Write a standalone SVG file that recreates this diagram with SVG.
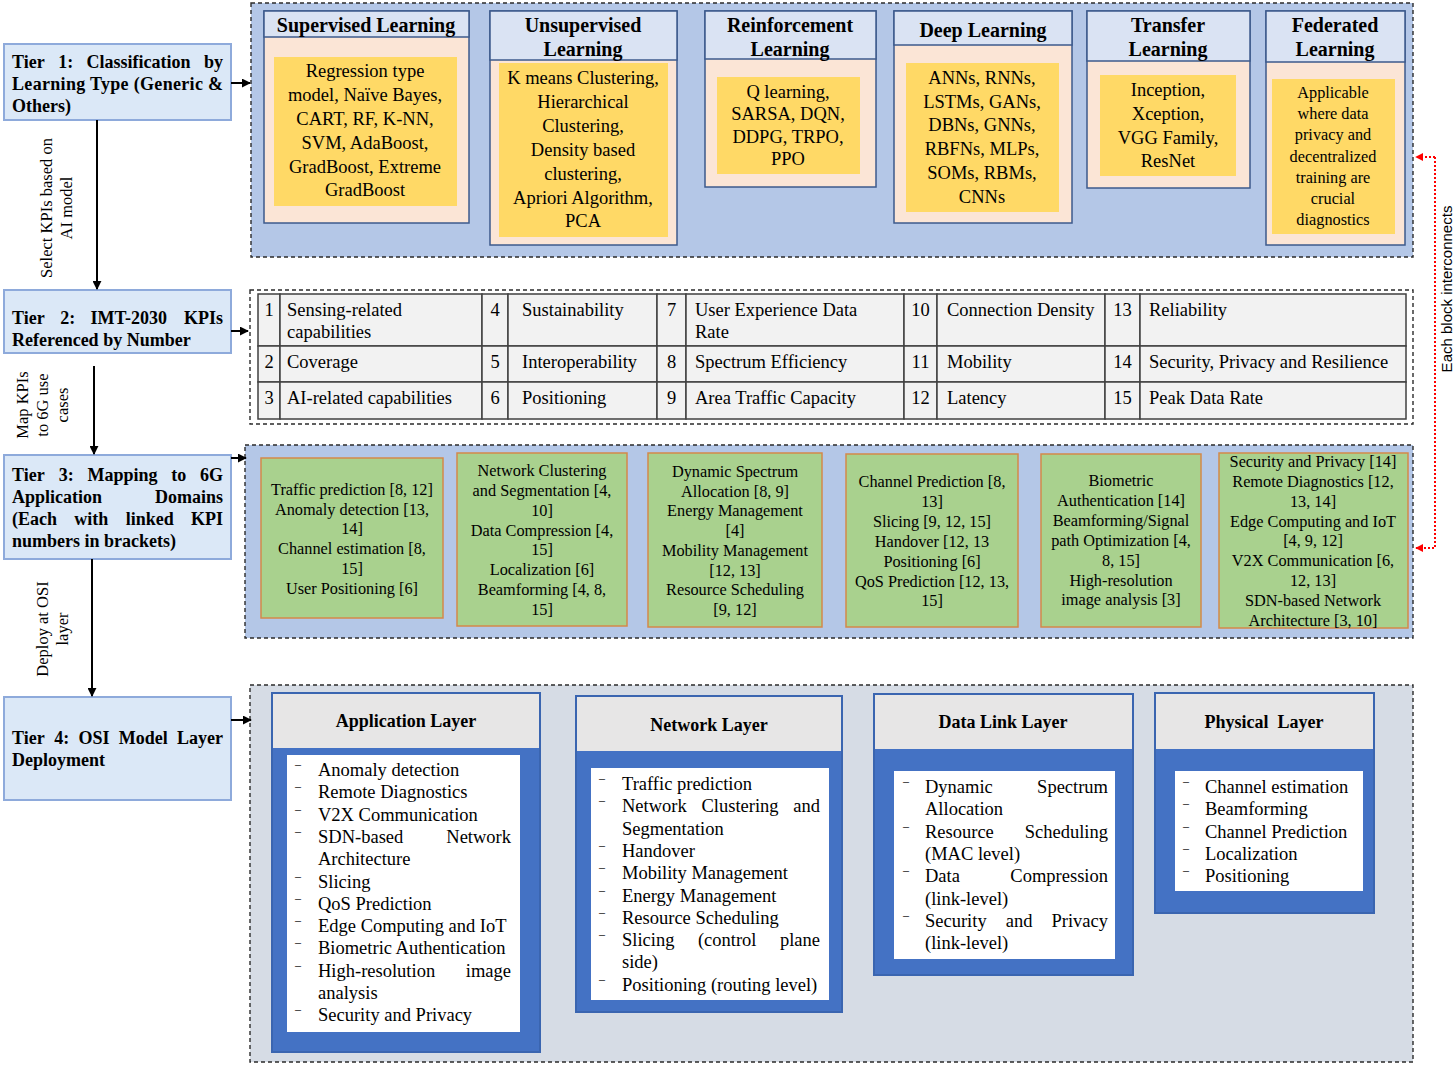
<svg xmlns="http://www.w3.org/2000/svg" width="1456" height="1065" viewBox="0 0 1456 1065">
<defs>
<style>
.tier{fill:#dbe8f7;stroke:#8eaadb;stroke-width:2}
.tt{font-family:"Liberation Serif",serif;font-weight:bold;font-size:18px;fill:#000}
.cont{stroke:#2b2b2b;stroke-width:1.4;stroke-dasharray:4 3}
.hdr{fill:#dae3f3;stroke:#3c5a8c;stroke-width:1.5}
.body{fill:#fbe5d6;stroke:#3c5a8c;stroke-width:1.5}
.yel{fill:#ffd966}
.ht{font-family:"Liberation Serif",serif;font-weight:bold;font-size:20px;text-anchor:middle;fill:#000}
.yt{font-family:"Liberation Serif",serif;font-size:18.5px;text-anchor:middle;fill:#000}
.ft{font-family:"Liberation Serif",serif;font-size:16.3px;text-anchor:middle;fill:#000}
.grn{fill:#a9d18e;stroke:#d4894a;stroke-width:1.5}
.gt{font-family:"Liberation Serif",serif;font-size:16.3px;text-anchor:middle;fill:#000}
.cell{fill:#f2f2f2;stroke:#404040;stroke-width:1.5}
.tb{font-family:"Liberation Serif",serif;font-size:18.5px;fill:#000}
.tbn{font-family:"Liberation Serif",serif;font-size:18.5px;fill:#000;text-anchor:middle}
.lcard{fill:#4472c4;stroke:#3a65b0;stroke-width:2}
.lhdr{fill:#e7e6e6}
.lwhite{fill:#ffffff}
.lh{font-family:"Liberation Serif",serif;font-weight:bold;font-size:18px;text-anchor:middle;fill:#000}
.lt{font-family:"Liberation Serif",serif;font-size:18.5px;fill:#000}
.bul{font-family:"Liberation Serif",serif;font-size:12px;fill:#000}
.rot{font-family:"Liberation Serif",serif;font-size:16.5px;text-anchor:middle;fill:#000}
.arr{stroke:#000;stroke-width:2;fill:none;marker-end:url(#ah)}
.red{stroke:#ff0000;stroke-width:2;fill:none;stroke-dasharray:2 2}
.redt{font-family:"Liberation Sans",sans-serif;font-size:15px;text-anchor:middle;fill:#000}
</style>
<marker id="ah" viewBox="0 0 10 10" refX="9" refY="5" markerWidth="4.5" markerHeight="4.5" orient="auto"><path d="M0,0 L10,5 L0,10 z" fill="#000"/></marker>
<marker id="rh" viewBox="0 0 10 10" refX="9" refY="5" markerWidth="4" markerHeight="4" orient="auto"><path d="M0,0 L10,5 L0,10 z" fill="#ff0000"/></marker>
</defs>
<rect width="1456" height="1065" fill="#ffffff"/>

<!-- Containers -->
<g id="containers">
<rect class="cont" x="251" y="3" width="1162" height="254" fill="#b4c7e7"/>
<rect class="cont" x="250" y="290" width="1163" height="134" fill="#ffffff"/>
<rect class="cont" x="245" y="445" width="1168" height="193" fill="#b4c7e7"/>
<rect class="cont" x="250" y="685" width="1163" height="377" fill="#d6dce5"/>
</g>

<!-- Tier boxes -->
<g id="tier1">
<rect class="tier" x="4" y="44" width="227" height="76"/>
<text class="tt"><tspan x="12" y="68">Tier</tspan><tspan x="58.3" y="68">1:</tspan><tspan x="86.6" y="68">Classification</tspan><tspan x="223" y="68" text-anchor="end">by</tspan></text>
<text class="tt" x="12" y="90" textLength="211" lengthAdjust="spacing">Learning Type (Generic &amp;</text>
<text class="tt" x="12" y="112">Others)</text>
</g>
<g id="tier2">
<rect class="tier" x="4" y="290" width="227" height="63"/>
<text class="tt"><tspan x="12" y="324">Tier</tspan><tspan x="60.3" y="324">2:</tspan><tspan x="90.6" y="324">IMT-2030</tspan><tspan x="223" y="324" text-anchor="end">KPIs</tspan></text>
<text class="tt" x="12" y="346">Referenced by Number</text>
</g>
<g id="tier3">
<rect class="tier" x="4" y="455" width="227" height="104"/>
<text class="tt"><tspan x="12" y="481">Tier</tspan><tspan x="58.7" y="481">3:</tspan><tspan x="87.5" y="481">Mapping</tspan><tspan x="171.2" y="481">to</tspan><tspan x="223" y="481" text-anchor="end">6G</tspan></text>
<text class="tt"><tspan x="12" y="503">Application</tspan><tspan x="223" y="503" text-anchor="end">Domains</tspan></text>
<text class="tt"><tspan x="12" y="525">(Each</tspan><tspan x="74.3" y="525">with</tspan><tspan x="125.7" y="525">linked</tspan><tspan x="223" y="525" text-anchor="end">KPI</tspan></text>
<text class="tt" x="12" y="547">numbers in brackets)</text>
</g>
<g id="tier4">
<rect class="tier" x="4" y="697" width="227" height="103"/>
<text class="tt"><tspan x="12" y="744">Tier</tspan><tspan x="54.2" y="744">4:</tspan><tspan x="78.5" y="744">OSI</tspan><tspan x="118.7" y="744">Model</tspan><tspan x="223" y="744" text-anchor="end">Layer</tspan></text>
<text class="tt" x="12" y="766">Deployment</text>
</g>

<!-- Connectors -->
<g id="connectors">
<line class="arr" x1="97" y1="120" x2="97" y2="289"/>
<line class="arr" x1="94" y1="366" x2="94" y2="454"/>
<line class="arr" x1="92" y1="559" x2="92" y2="696"/>
<line class="arr" x1="231" y1="83" x2="250" y2="83"/>
<line class="arr" x1="231" y1="331" x2="248" y2="331"/>
<line class="arr" x1="231" y1="458" x2="246" y2="458"/>
<line class="arr" x1="231" y1="720" x2="251" y2="720"/>
<path class="red" d="M1435,157 H1435 V548 H1416" marker-end="url(#rh)"/>
<path class="red" d="M1435,157 H1416" marker-end="url(#rh)"/>
<text class="rot" transform="translate(0,208) rotate(-90)"><tspan x="0" y="52">Select KPIs based on</tspan><tspan x="0" y="72">AI model</tspan></text>
<text class="rot" transform="translate(0,405) rotate(-90)"><tspan x="0" y="28">Map KPIs</tspan><tspan x="0" y="48">to 6G use</tspan><tspan x="0" y="68">cases</tspan></text>
<text class="rot" transform="translate(0,629) rotate(-90)"><tspan x="0" y="48">Deploy at OSI</tspan><tspan x="0" y="68">layer</tspan></text>
<text class="redt" transform="translate(1452,289) rotate(-90)" x="0" y="0">Each block interconnects</text>
</g>

<!-- Tier 1 cards -->
<g id="supervised">
<rect class="body" x="264" y="11" width="205" height="212"/>
<rect class="hdr" x="264" y="11" width="205" height="26"/>
<text class="ht" x="366" y="32">Supervised Learning</text>
<rect class="yel" x="274" y="57" width="183" height="149"/>
<text class="yt"><tspan x="365" y="77">Regression type</tspan><tspan x="365" y="101">model, Naïve Bayes,</tspan><tspan x="365" y="125">CART, RF, K-NN,</tspan><tspan x="365" y="149">SVM, AdaBoost,</tspan><tspan x="365" y="173">GradBoost, Extreme</tspan><tspan x="365" y="196">GradBoost</tspan></text>
</g>
<g id="unsupervised">
<rect class="body" x="490" y="11" width="187" height="234"/>
<rect class="hdr" x="490" y="11" width="187" height="49"/>
<text class="ht"><tspan x="583" y="32">Unsupervised</tspan><tspan x="583" y="56">Learning</tspan></text>
<rect class="yel" x="499" y="63" width="169" height="174"/>
<text class="yt"><tspan x="583" y="84">K means Clustering,</tspan><tspan x="583" y="108">Hierarchical</tspan><tspan x="583" y="132">Clustering,</tspan><tspan x="583" y="156">Density based</tspan><tspan x="583" y="180">clustering,</tspan><tspan x="583" y="204">Apriori Algorithm,</tspan><tspan x="583" y="227">PCA</tspan></text>
</g>
<g id="reinforcement">
<rect class="body" x="705" y="11" width="171" height="176"/>
<rect class="hdr" x="705" y="11" width="171" height="48"/>
<text class="ht"><tspan x="790" y="32">Reinforcement</tspan><tspan x="790" y="56">Learning</tspan></text>
<rect class="yel" x="717" y="77" width="143" height="97"/>
<text class="yt"><tspan x="788" y="98">Q learning,</tspan><tspan x="788" y="120">SARSA, DQN,</tspan><tspan x="788" y="143">DDPG, TRPO,</tspan><tspan x="788" y="165">PPO</tspan></text>
</g>
<g id="deep">
<rect class="body" x="894" y="11" width="178" height="212"/>
<rect class="hdr" x="894" y="11" width="178" height="34"/>
<text class="ht" x="983" y="37">Deep Learning</text>
<rect class="yel" x="906" y="63" width="153" height="149"/>
<text class="yt"><tspan x="982" y="84">ANNs, RNNs,</tspan><tspan x="982" y="108">LSTMs, GANs,</tspan><tspan x="982" y="131">DBNs, GNNs,</tspan><tspan x="982" y="155">RBFNs, MLPs,</tspan><tspan x="982" y="179">SOMs, RBMs,</tspan><tspan x="982" y="203">CNNs</tspan></text>
</g>
<g id="transfer">
<rect class="body" x="1087" y="11" width="163" height="177"/>
<rect class="hdr" x="1087" y="11" width="163" height="50"/>
<text class="ht"><tspan x="1168" y="32">Transfer</tspan><tspan x="1168" y="56">Learning</tspan></text>
<rect class="yel" x="1100" y="75" width="136" height="101"/>
<text class="yt"><tspan x="1168" y="96">Inception,</tspan><tspan x="1168" y="120">Xception,</tspan><tspan x="1168" y="144">VGG Family,</tspan><tspan x="1168" y="167">ResNet</tspan></text>
</g>
<g id="federated">
<rect class="body" x="1266" y="11" width="139" height="234"/>
<rect class="hdr" x="1266" y="11" width="139" height="51"/>
<text class="ht"><tspan x="1335" y="32">Federated</tspan><tspan x="1335" y="56">Learning</tspan></text>
<rect class="yel" x="1272" y="79" width="123" height="155"/>
<text class="ft"><tspan x="1333" y="98">Applicable</tspan><tspan x="1333" y="119">where data</tspan><tspan x="1333" y="140">privacy and</tspan><tspan x="1333" y="162">decentralized</tspan><tspan x="1333" y="183">training are</tspan><tspan x="1333" y="204">crucial</tspan><tspan x="1333" y="225">diagnostics</tspan></text>
</g>

<!-- Tier 2 KPI table -->
<g id="kpi-table">
<rect class="cell" x="258" y="294" width="22" height="52"/><rect class="cell" x="280" y="294" width="202" height="52"/><rect class="cell" x="482" y="294" width="26" height="52"/><rect class="cell" x="508" y="294" width="149" height="52"/><rect class="cell" x="657" y="294" width="29" height="52"/><rect class="cell" x="686" y="294" width="218" height="52"/><rect class="cell" x="904" y="294" width="33" height="52"/><rect class="cell" x="937" y="294" width="168" height="52"/><rect class="cell" x="1105" y="294" width="35" height="52"/><rect class="cell" x="1140" y="294" width="266" height="52"/>
<rect class="cell" x="258" y="346" width="22" height="36"/><rect class="cell" x="280" y="346" width="202" height="36"/><rect class="cell" x="482" y="346" width="26" height="36"/><rect class="cell" x="508" y="346" width="149" height="36"/><rect class="cell" x="657" y="346" width="29" height="36"/><rect class="cell" x="686" y="346" width="218" height="36"/><rect class="cell" x="904" y="346" width="33" height="36"/><rect class="cell" x="937" y="346" width="168" height="36"/><rect class="cell" x="1105" y="346" width="35" height="36"/><rect class="cell" x="1140" y="346" width="266" height="36"/>
<rect class="cell" x="258" y="382" width="22" height="37"/><rect class="cell" x="280" y="382" width="202" height="37"/><rect class="cell" x="482" y="382" width="26" height="37"/><rect class="cell" x="508" y="382" width="149" height="37"/><rect class="cell" x="657" y="382" width="29" height="37"/><rect class="cell" x="686" y="382" width="218" height="37"/><rect class="cell" x="904" y="382" width="33" height="37"/><rect class="cell" x="937" y="382" width="168" height="37"/><rect class="cell" x="1105" y="382" width="35" height="37"/><rect class="cell" x="1140" y="382" width="266" height="37"/>
<text class="tbn" x="269" y="316">1</text><text class="tb" x="287" y="316">Sensing-related</text><text class="tb" x="287" y="338">capabilities</text>
<text class="tbn" x="495" y="316">4</text><text class="tb" x="522" y="316">Sustainability</text>
<text class="tbn" x="671.5" y="316">7</text><text class="tb" x="695" y="316">User Experience Data</text><text class="tb" x="695" y="338">Rate</text>
<text class="tbn" x="920.5" y="316">10</text><text class="tb" x="947" y="316">Connection Density</text>
<text class="tbn" x="1122.5" y="316">13</text><text class="tb" x="1149" y="316">Reliability</text>
<text class="tbn" x="269" y="368">2</text><text class="tb" x="287" y="368">Coverage</text>
<text class="tbn" x="495" y="368">5</text><text class="tb" x="522" y="368">Interoperability</text>
<text class="tbn" x="671.5" y="368">8</text><text class="tb" x="695" y="368">Spectrum Efficiency</text>
<text class="tbn" x="920.5" y="368">11</text><text class="tb" x="947" y="368">Mobility</text>
<text class="tbn" x="1122.5" y="368">14</text><text class="tb" x="1149" y="368">Security, Privacy and Resilience</text>
<text class="tbn" x="269" y="404">3</text><text class="tb" x="287" y="404">AI-related capabilities</text>
<text class="tbn" x="495" y="404">6</text><text class="tb" x="522" y="404">Positioning</text>
<text class="tbn" x="671.5" y="404">9</text><text class="tb" x="695" y="404">Area Traffic Capacity</text>
<text class="tbn" x="920.5" y="404">12</text><text class="tb" x="947" y="404">Latency</text>
<text class="tbn" x="1122.5" y="404">15</text><text class="tb" x="1149" y="404">Peak Data Rate</text>
</g>

<!-- Tier 3 application domains -->
<g id="domain1">
<rect class="grn" x="261" y="458" width="182" height="160"/>
<text class="gt"><tspan x="352" y="495">Traffic prediction [8, 12]</tspan><tspan x="352" y="515">Anomaly detection [13,</tspan><tspan x="352" y="534">14]</tspan><tspan x="352" y="554">Channel estimation [8,</tspan><tspan x="352" y="574">15]</tspan><tspan x="352" y="594">User Positioning [6]</tspan></text>
</g>
<g id="domain2">
<rect class="grn" x="457" y="453" width="170" height="173"/>
<text class="gt"><tspan x="542" y="476">Network Clustering</tspan><tspan x="542" y="496">and Segmentation [4,</tspan><tspan x="542" y="516">10]</tspan><tspan x="542" y="536">Data Compression [4,</tspan><tspan x="542" y="555">15]</tspan><tspan x="542" y="575">Localization [6]</tspan><tspan x="542" y="595">Beamforming [4, 8,</tspan><tspan x="542" y="615">15]</tspan></text>
</g>
<g id="domain3">
<rect class="grn" x="648" y="453" width="174" height="174"/>
<text class="gt"><tspan x="735" y="477">Dynamic Spectrum</tspan><tspan x="735" y="497">Allocation [8, 9]</tspan><tspan x="735" y="516">Energy Management</tspan><tspan x="735" y="536">[4]</tspan><tspan x="735" y="556">Mobility Management</tspan><tspan x="735" y="576">[12, 13]</tspan><tspan x="735" y="595">Resource Scheduling</tspan><tspan x="735" y="615">[9, 12]</tspan></text>
</g>
<g id="domain4">
<rect class="grn" x="846" y="454" width="172" height="173"/>
<text class="gt"><tspan x="932" y="487">Channel Prediction [8,</tspan><tspan x="932" y="507">13]</tspan><tspan x="932" y="527">Slicing [9, 12, 15]</tspan><tspan x="932" y="547">Handover [12, 13</tspan><tspan x="932" y="567">Positioning [6]</tspan><tspan x="932" y="587">QoS Prediction [12, 13,</tspan><tspan x="932" y="606">15]</tspan></text>
</g>
<g id="domain5">
<rect class="grn" x="1041" y="454" width="160" height="173"/>
<text class="gt"><tspan x="1121" y="486">Biometric</tspan><tspan x="1121" y="506">Authentication [14]</tspan><tspan x="1121" y="526">Beamforming/Signal</tspan><tspan x="1121" y="546">path Optimization [4,</tspan><tspan x="1121" y="566">8, 15]</tspan><tspan x="1121" y="586">High-resolution</tspan><tspan x="1121" y="605">image analysis [3]</tspan></text>
</g>
<g id="domain6">
<rect class="grn" x="1219" y="453" width="189" height="175"/>
<text class="gt"><tspan x="1313" y="467">Security and Privacy [14]</tspan><tspan x="1313" y="487">Remote Diagnostics [12,</tspan><tspan x="1313" y="507">13, 14]</tspan><tspan x="1313" y="527">Edge Computing and IoT</tspan><tspan x="1313" y="546">[4, 9, 12]</tspan><tspan x="1313" y="566">V2X Communication [6,</tspan><tspan x="1313" y="586">12, 13]</tspan><tspan x="1313" y="606">SDN-based Network</tspan><tspan x="1313" y="626">Architecture [3, 10]</tspan></text>
</g>

<!-- Tier 4 OSI layers -->
<g id="application-layer">
<rect class="lcard" x="272" y="693" width="268" height="359"/>
<rect class="lhdr" x="273" y="694" width="266" height="54"/>
<text class="lh" x="406" y="727">Application Layer</text>
<rect class="lwhite" x="287" y="755" width="233" height="277"/>
<g class="bul"><text x="295" y="768">–</text><text x="295" y="790.3">–</text><text x="295" y="812.6">–</text><text x="295" y="834.9">–</text><text x="295" y="879.5">–</text><text x="295" y="901.8">–</text><text x="295" y="924.1">–</text><text x="295" y="946.4">–</text><text x="295" y="968.7">–</text><text x="295" y="1013.3">–</text></g>
<g class="lt">
<text x="318" y="776">Anomaly detection</text>
<text x="318" y="798.3">Remote Diagnostics</text>
<text x="318" y="820.6">V2X Communication</text>
<text x="318" y="842.9">SDN-based</text><text x="511" y="842.9" text-anchor="end">Network</text>
<text x="318" y="865.2">Architecture</text>
<text x="318" y="887.5">Slicing</text>
<text x="318" y="909.8">QoS Prediction</text>
<text x="318" y="932.1">Edge Computing and IoT</text>
<text x="318" y="954.4">Biometric Authentication</text>
<text x="318" y="976.7">High-resolution</text><text x="511" y="976.7" text-anchor="end">image</text>
<text x="318" y="999">analysis</text>
<text x="318" y="1021.3">Security and Privacy</text>
</g>
</g>
<g id="network-layer">
<rect class="lcard" x="576" y="696" width="266" height="316"/>
<rect class="lhdr" x="577" y="697" width="264" height="54"/>
<text class="lh" x="709" y="731">Network Layer</text>
<rect class="lwhite" x="591" y="768" width="238" height="232"/>
<g class="bul"><text x="599" y="782">–</text><text x="599" y="804.3">–</text><text x="599" y="848.9">–</text><text x="599" y="871.2">–</text><text x="599" y="893.5">–</text><text x="599" y="915.8">–</text><text x="599" y="938.1">–</text><text x="599" y="982.7">–</text></g>
<g class="lt">
<text x="622" y="790">Traffic prediction</text>
<text x="622" y="812.3">Network</text><text x="701.5" y="812.3">Clustering</text><text x="820" y="812.3" text-anchor="end">and</text>
<text x="622" y="834.6">Segmentation</text>
<text x="622" y="856.9">Handover</text>
<text x="622" y="879.2">Mobility Management</text>
<text x="622" y="901.5">Energy Management</text>
<text x="622" y="923.8">Resource Scheduling</text>
<text x="622" y="946.1">Slicing</text><text x="697.9" y="946.1">(control</text><text x="820" y="946.1" text-anchor="end">plane</text>
<text x="622" y="968.4">side)</text>
<text x="622" y="990.7">Positioning (routing level)</text>
</g>
</g>
<g id="data-link-layer">
<rect class="lcard" x="874" y="694" width="259" height="281"/>
<rect class="lhdr" x="875" y="695" width="257" height="54"/>
<text class="lh" x="1003" y="728">Data Link Layer</text>
<rect class="lwhite" x="894" y="771" width="221" height="188"/>
<g class="bul"><text x="903" y="785">–</text><text x="903" y="829.6">–</text><text x="903" y="874.2">–</text><text x="903" y="918.8">–</text></g>
<g class="lt">
<text x="925" y="793">Dynamic</text><text x="1108" y="793" text-anchor="end">Spectrum</text>
<text x="925" y="815.3">Allocation</text>
<text x="925" y="837.6">Resource</text><text x="1108" y="837.6" text-anchor="end">Scheduling</text>
<text x="925" y="859.9">(MAC level)</text>
<text x="925" y="882.2">Data</text><text x="1108" y="882.2" text-anchor="end">Compression</text>
<text x="925" y="904.5">(link-level)</text>
<text x="925" y="926.8">Security</text><text x="1005.7" y="926.8">and</text><text x="1108" y="926.8" text-anchor="end">Privacy</text>
<text x="925" y="949.1">(link-level)</text>
</g>
</g>
<g id="physical-layer">
<rect class="lcard" x="1155" y="693" width="219" height="220"/>
<rect class="lhdr" x="1156" y="694" width="217" height="55"/>
<text class="lh" x="1264" y="728" xml:space="preserve">Physical  Layer</text>
<rect class="lwhite" x="1175" y="771" width="188" height="120"/>
<g class="bul"><text x="1183" y="785">–</text><text x="1183" y="807.3">–</text><text x="1183" y="829.6">–</text><text x="1183" y="851.9">–</text><text x="1183" y="874.2">–</text></g>
<g class="lt">
<text x="1205" y="793">Channel estimation</text>
<text x="1205" y="815.3">Beamforming</text>
<text x="1205" y="837.6">Channel Prediction</text>
<text x="1205" y="859.9">Localization</text>
<text x="1205" y="882.2">Positioning</text>
</g>
</g>
</svg>
